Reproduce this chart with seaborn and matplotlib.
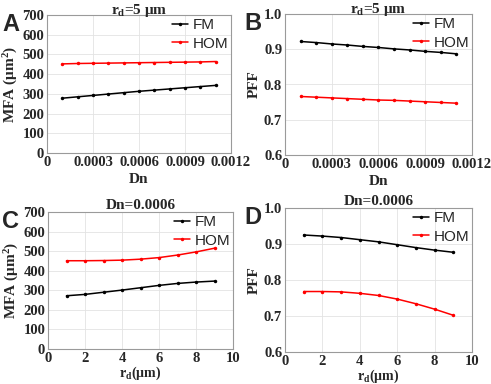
import numpy as np
import pandas as pd
import matplotlib
matplotlib.use("Agg")
import matplotlib.pyplot as plt
import seaborn as sns

# ---- data ----
dn_vals = [0.0001, 0.0002, 0.0003, 0.0004, 0.0005, 0.0006, 0.0007, 0.0008, 0.0009, 0.0010, 0.0011]
mfa_fm_dn = [278, 285, 292, 299, 306, 313, 319, 325, 331, 337, 343]
mfa_hom_dn = [452, 454, 455, 456, 457, 458, 459, 460, 461, 462, 464]
pff_fm_dn = [0.922, 0.919, 0.915, 0.912, 0.908, 0.905, 0.901, 0.898, 0.894, 0.891, 0.887]
pff_hom_dn = [0.766, 0.764, 0.762, 0.760, 0.758, 0.756, 0.755, 0.753, 0.751, 0.749, 0.747]

rd_vals = [1, 2, 3, 4, 5, 6, 7, 8, 9]
mfa_fm_rd = [272, 279, 290, 301, 313, 325, 335, 342, 347]
mfa_hom_rd = [451, 451, 452, 454, 459, 467, 480, 496, 515]
pff_fm_rd = [0.925, 0.922, 0.918, 0.912, 0.906, 0.898, 0.890, 0.883, 0.877]
pff_hom_rd = [0.768, 0.768, 0.767, 0.763, 0.757, 0.747, 0.734, 0.719, 0.702]

modes = ["FM", "HOM"]
palette = {"FM": "black", "HOM": "red"}

sns.set_theme(style="whitegrid")
plt.rcParams['font.family'] = ['Liberation Serif', 'DejaVu Serif']
plt.rcParams['mathtext.fontset'] = 'custom'
plt.rcParams['mathtext.rm'] = 'Liberation Serif:bold'
plt.rcParams['mathtext.it'] = 'Liberation Serif:bold'
plt.rcParams['mathtext.bf'] = 'Liberation Serif:bold'


def make_df(x, fm, hom):
    return pd.DataFrame({
        "x": list(x) * 2,
        "y": list(fm) + list(hom),
        "mode": ["FM"] * len(fm) + ["HOM"] * len(hom),
    })


fig = plt.figure(figsize=(4.91, 3.84), dpi=100)
W, H = 491, 384


def px_axes(left, top, right, bottom):
    return fig.add_axes([left / W, 1 - bottom / H, (right - left) / W, (bottom - top) / H])


panels = [
    ("A", px_axes(47, 15, 231, 153), make_df(dn_vals, mfa_fm_dn, mfa_hom_dn), "dn", "mfa"),
    ("B", px_axes(285, 14, 472, 155), make_df(dn_vals, pff_fm_dn, pff_hom_dn), "dn", "pff"),
    ("C", px_axes(48, 212, 233, 349), make_df(rd_vals, mfa_fm_rd, mfa_hom_rd), "rd", "mfa"),
    ("D", px_axes(285, 208, 472, 352), make_df(rd_vals, pff_fm_rd, pff_hom_rd), "rd", "pff"),
]

for letter, ax, df, xkind, ykind in panels:
    sns.lineplot(data=df, x="x", y="y", hue="mode", hue_order=modes, palette=palette,
                 marker="o", markersize=2.5, markeredgewidth=0, linewidth=1.1, ax=ax)

    if xkind == "dn":
        ax.set_xlim(0, 0.0012)
        ax.set_xticks([0, 0.0003, 0.0006, 0.0009, 0.0012])
        ax.set_xticklabels(["0", "0.0003", "0.0006", "0.0009", "0.0012"])
        ax.set_xlabel("Dn", fontsize=11, fontweight="bold", labelpad=3)
        ax.set_title(r"r$_\mathregular{d}$=5 μm", fontsize=11, fontweight="bold", pad=1)
    else:
        ax.set_xlim(0, 10)
        ax.set_xticks([0, 2, 4, 6, 8, 10])
        ax.set_xlabel(r"r$_\mathregular{d}$(μm)", fontsize=10, fontweight="bold", labelpad=0)
        ax.set_title("Dn=0.0006", fontsize=11, fontweight="bold", pad=2)

    if ykind == "mfa":
        ax.set_ylim(0, 700)
        ax.set_yticks(np.arange(0, 701, 100))
        ax.set_ylabel(r"MFA (μm$^\mathregular{2}$)", fontsize=11, fontweight="bold", labelpad=2)
    else:
        ax.set_ylim(0.6, 1.0)
        ax.set_yticks([0.6, 0.7, 0.8, 0.9, 1.0])
        ax.set_yticklabels(["0.6", "0.7", "0.8", "0.9", "1.0"])
        ax.set_ylabel("PFF", fontsize=11, fontweight="bold", labelpad=2)

    ax.tick_params(axis="both", length=0, pad=2, labelsize=10.5)
    for lab in ax.get_xticklabels() + ax.get_yticklabels():
        lab.set_fontweight("bold")
    ax.grid(True, color="#e3e3e3", linewidth=0.6)
    for sp in ax.spines.values():
        sp.set_color("#9a9a9a")
        sp.set_linewidth(0.8)

    ax.legend(loc="upper right", frameon=False, handlelength=1.0,
              handletextpad=0.3, labelspacing=0.3, borderaxespad=0.0,
              borderpad=0.2,
              prop={"family": ["Liberation Sans", "DejaVu Sans"], "size": 11})

    pos = ax.get_position()
    fig.text(2 / W if letter in "AC" else 244 / W, pos.y1 + 2 / H, letter,
             fontsize=17, fontweight="bold", family=["Liberation Sans", "DejaVu Sans"],
             va="top", ha="left")

fig.savefig("out.png", dpi=100)
